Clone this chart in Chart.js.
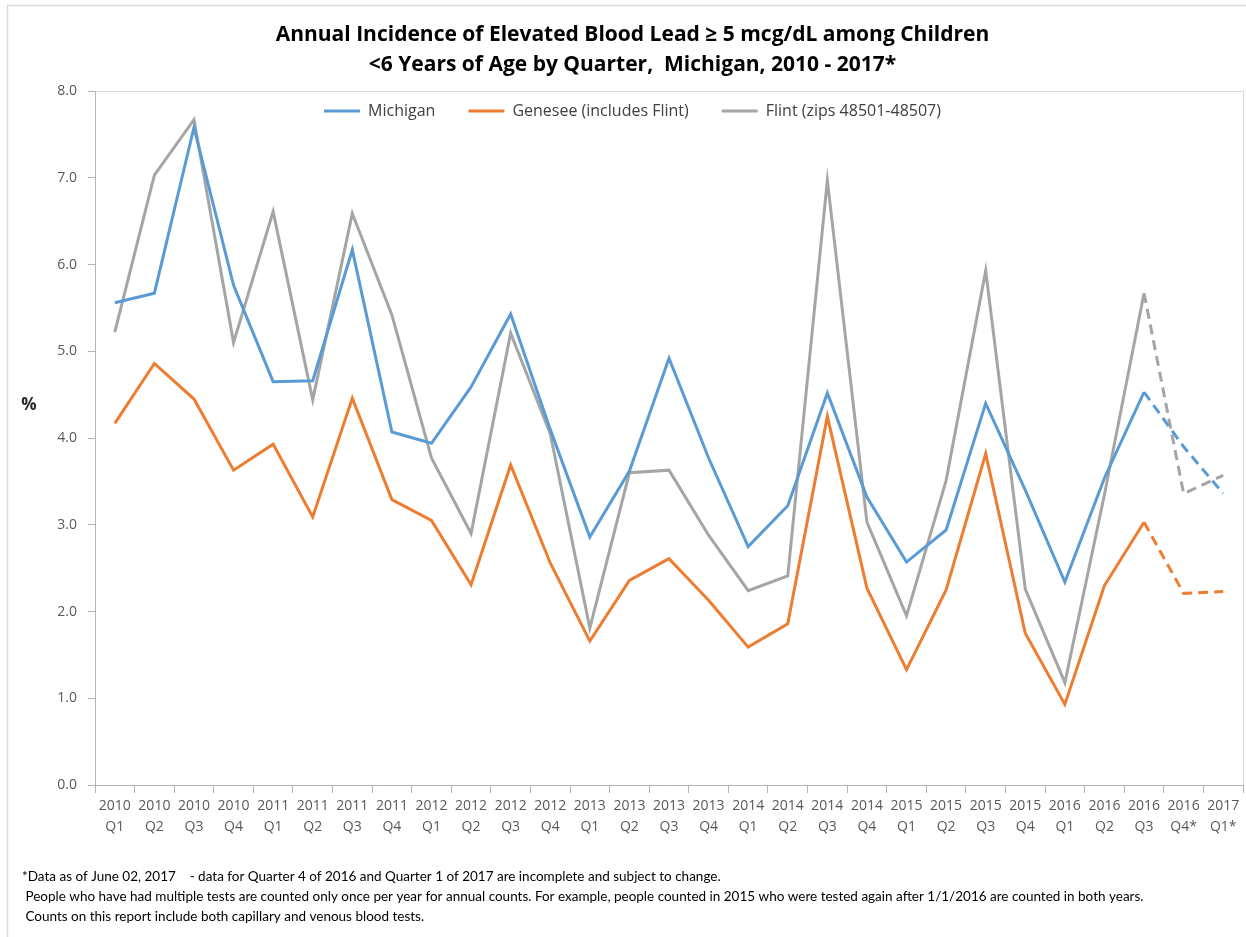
<!DOCTYPE html>
<html>
<head>
<meta charset="utf-8">
<script src="https://cdn.jsdelivr.net/npm/chart.js@4.4.1/dist/chart.umd.min.js"></script>
<style>
  html, body { margin: 0; padding: 0; background: #fff; }
  #wrap { width: 1246px; height: 937px; }
</style>
</head>
<body>
<div id="wrap"><canvas id="myChart" width="1246" height="937"></canvas></div>
<script>
// quarters 2010 Q1 .. 2017 Q1 (last two incomplete)
const labels = [
  ['2010', 'Q1'], ['2010', 'Q2'], ['2010', 'Q3'], ['2010', 'Q4'],
  ['2011', 'Q1'], ['2011', 'Q2'], ['2011', 'Q3'], ['2011', 'Q4'],
  ['2012', 'Q1'], ['2012', 'Q2'], ['2012', 'Q3'], ['2012', 'Q4'],
  ['2013', 'Q1'], ['2013', 'Q2'], ['2013', 'Q3'], ['2013', 'Q4'],
  ['2014', 'Q1'], ['2014', 'Q2'], ['2014', 'Q3'], ['2014', 'Q4'],
  ['2015', 'Q1'], ['2015', 'Q2'], ['2015', 'Q3'], ['2015', 'Q4'],
  ['2016', 'Q1'], ['2016', 'Q2'], ['2016', 'Q3'], ['2016', 'Q4*'],
  ['2017', 'Q1*']
];

const michigan = [5.56, 5.67, 7.58, 5.76, 4.65, 4.66, 6.17, 4.07, 3.94, 4.59, 5.43, 4.10,
  2.86, 3.62, 4.92, 3.77, 2.75, 3.22, 4.52, 3.32, 2.57, 2.94, 4.40, 3.40,
  2.34, 3.54, 4.53, 3.90, 3.36];
const genesee = [4.17, 4.86, 4.45, 3.63, 3.93, 3.09, 4.46, 3.29, 3.05, 2.31, 3.69, 2.56,
  1.66, 2.36, 2.61, 2.13, 1.59, 1.86, 4.25, 2.27, 1.33, 2.25, 3.82, 1.75,
  0.93, 2.30, 3.03, 2.21, 2.23];
const flint = [5.22, 7.03, 7.67, 5.10, 6.61, 4.44, 6.59, 5.42, 3.77, 2.90, 5.21, 4.05,
  1.81, 3.60, 3.63, 2.88, 2.24, 2.41, 6.97, 3.03, 1.95, 3.51, 5.93, 2.26,
  1.18, 3.35, 5.67, 3.36, 3.57];

const yTicks = [0, 1, 2, 3, 4, 5, 6, 7, 8];
const firstIncomplete = 27; // 2016 Q4*

const titleLines = [
  'Annual Incidence of Elevated Blood Lead \u2265 5 mcg/dL among Children',
  '<6 Years of Age by Quarter,  Michigan, 2010 - 2017*'
];
const footLines = [
  '*Data as of June 02, 2017    - data for Quarter 4 of 2016 and Quarter 1 of 2017 are incomplete and subject to change.',
  ' People who have had multiple tests are counted only once per year for annual counts. For example, people counted in 2015 who were tested again after 1/1/2016 are counted in both years.',
  ' Counts on this report include both capillary and venous blood tests.'
];

const dashed = ctx => ctx.p1DataIndex >= firstIncomplete ? [10, 6] : undefined;

function line(label, data, color) {
  return {
    label: label,
    data: data,
    borderColor: color,
    backgroundColor: color,
    borderWidth: 3,
    pointRadius: 0,
    tension: 0,
    fill: false,
    segment: { borderDash: dashed }
  };
}

// frame around picture + plot box, "%" label, legend placed inside plot
const extras = {
  id: 'extras',
  beforeLayout(chart) {
    const lg = chart.legend;
    if (lg && !lg._patched) {
      const fit = lg.fit.bind(lg);
      lg.fit = function () { fit(); this.height = 11; };
      lg._patched = true;
    }
  },
  afterLayout(chart) {
    // legend takes almost no room in the layout, then sits inside the plot top
    const lg = chart.legend;
    lg.top = chart.chartArea.top - 21;
    lg.bottom = lg.top + 80;
    lg.height = 80;
  },
  beforeDraw(chart) {
    const c = chart.ctx, a = chart.chartArea;
    c.save();
    c.strokeStyle = '#DADADA';
    c.lineWidth = 1.5;
    c.strokeRect(7.5, 5.5, chart.width + 10, chart.height + 10);
    c.strokeStyle = '#D9D9D9';
    c.lineWidth = 1;
    c.strokeRect(a.left + 0.5, a.top + 0.5, a.right - a.left, a.bottom - a.top);
    c.restore();
  },
  afterDraw(chart) {
    const c = chart.ctx, a = chart.chartArea;
    c.save();
    c.fillStyle = '#262626';
    c.font = 'bold 17px "Open Sans"';
    c.textAlign = 'center';
    c.textBaseline = 'middle';
    c.fillText('%', a.left - 66, a.top + (a.bottom - a.top) * 0.453);
    c.restore();
  }
};

const ctx = document.getElementById('myChart').getContext('2d');

new Chart(ctx, {
  type: 'line',
  data: {
    labels: labels,
    datasets: [
      line('Michigan', michigan, '#5B9BD5'),
      line('Genesee (includes Flint)', genesee, '#ED7D31'),
      line('Flint (zips 48501-48507)', flint, '#A5A5A5')
    ]
  },
  plugins: [extras],
  options: {
    responsive: false,
    animation: false,
    layout: { padding: { left: 22, right: 3, top: 0, bottom: 0 } },
    plugins: {
      title: {
        display: true,
        text: titleLines,
        color: '#000',
        font: { family: 'Open Sans', size: 21, weight: 'bold', lineHeight: 1.43 },
        padding: { top: 20, bottom: 0 }
      },
      legend: {
        display: true,
        position: 'top',
        labels: {
          usePointStyle: true,
          pointStyle: 'line',
          pointStyleWidth: 36,
          padding: 33,
          color: '#404040',
          font: { family: 'Open Sans', size: 16 }
        }
      },
      subtitle: {
        display: true,
        position: 'bottom',
        align: 'start',
        text: footLines,
        color: '#000',
        font: { family: 'Lato', size: 13.5, lineHeight: 1.48 },
        padding: { top: 0, bottom: 10 }
      },
      tooltip: { enabled: false }
    },
    scales: {
      x: {
        offset: true,
        grid: { display: true, offset: true, drawOnChartArea: false, drawTicks: true, tickLength: 8, color: '#B4B4B4' },
        border: { display: true, color: '#B4B4B4', width: 1 },
        ticks: {
          autoSkip: false,
          maxRotation: 0,
          padding: 2,
          color: '#595959',
          font: { family: 'Open Sans', size: 14, lineHeight: 1.5 }
        },
        afterFit(scale) { scale.height = 82; }
      },
      y: {
        min: 0,
        max: 8,
        afterBuildTicks(scale) { scale.ticks = yTicks.map(v => ({ value: v })); },
        grid: { display: true, drawOnChartArea: false, drawTicks: true, tickLength: 7, color: '#B4B4B4' },
        border: { display: true, color: '#B4B4B4', width: 1 },
        ticks: {
          padding: 11,
          color: '#595959',
          font: { family: 'Open Sans', size: 14 },
          callback: v => v.toFixed(1)
        },
        afterFit(scale) { scale.width = 73; }
      }
    }
  }
});
</script>
</body>
</html>
